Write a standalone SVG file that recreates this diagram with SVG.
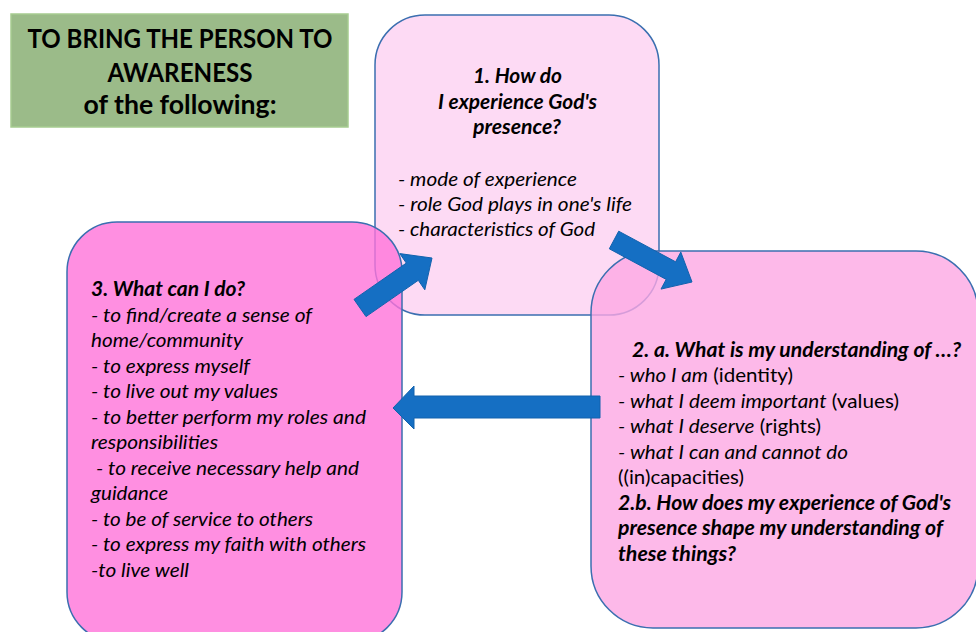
<svg xmlns="http://www.w3.org/2000/svg" width="976" height="632" viewBox="0 0 976 632">
<style>
.t{font-family:Lato,"Open Sans","Liberation Sans",sans-serif;font-size:20px;fill:#000}
.bi{font-weight:bold;font-style:italic}
.i{font-style:italic}
.n{font-style:normal}
.h{font-family:Lato,"Open Sans","Liberation Sans",sans-serif;font-size:27px;font-weight:bold;fill:#000;text-anchor:middle}
.box{stroke:#3b6fb0;stroke-width:1.5;fill-opacity:0.8}
.arrow{fill:#156fc3;stroke:#1262ad;stroke-width:1}
</style>
<rect width="976" height="632" fill="#fff"/>
<g id="title">
<rect x="11" y="14" width="337" height="113" fill="#9bbb89" stroke="#a6cc90" stroke-width="1.5"/>
<text class="h" x="180" y="48" textLength="305" lengthAdjust="spacingAndGlyphs">TO BRING THE PERSON TO</text>
<text class="h" x="180" y="82" textLength="145" lengthAdjust="spacingAndGlyphs">AWARENESS</text>
<text class="h" x="180" y="114" textLength="193" lengthAdjust="spacingAndGlyphs">of the following:</text>
</g>
<g id="node1">
<rect class="box" x="375" y="15" width="284" height="300" rx="50" fill="#fdd1f1"/>
<text class="t bi" x="473" y="83" textLength="89" lengthAdjust="spacingAndGlyphs">1. How do</text>
<text class="t bi" x="438" y="109" textLength="159" lengthAdjust="spacingAndGlyphs">I experience God's</text>
<text class="t bi" x="473" y="134" textLength="88" lengthAdjust="spacingAndGlyphs">presence?</text>
<text class="t i" x="398" y="186" textLength="179" lengthAdjust="spacingAndGlyphs">- mode of experience</text>
<text class="t i" x="398" y="211" textLength="234" lengthAdjust="spacingAndGlyphs">- role God plays in one's life</text>
<text class="t i" x="398" y="236" textLength="197" lengthAdjust="spacingAndGlyphs">- characteristics of God</text>
</g>
<g id="node3">
<rect class="box" x="67" y="222" width="335" height="420" rx="50" fill="#ff73d9"/>
<text class="t bi" x="91" y="296" textLength="154" lengthAdjust="spacingAndGlyphs">3. What can I do?</text>
<text class="t i" x="91" y="322" textLength="221" lengthAdjust="spacingAndGlyphs">- to find/create a sense of</text>
<text class="t i" x="91" y="347" textLength="152" lengthAdjust="spacingAndGlyphs">home/community</text>
<text class="t i" x="91" y="373" textLength="159" lengthAdjust="spacingAndGlyphs">- to express myself</text>
<text class="t i" x="91" y="398" textLength="187" lengthAdjust="spacingAndGlyphs">- to live out my values</text>
<text class="t i" x="91" y="424" textLength="275" lengthAdjust="spacingAndGlyphs">- to better perform my roles and</text>
<text class="t i" x="91" y="449" textLength="127" lengthAdjust="spacingAndGlyphs">responsibilities</text>
<text class="t i" x="96" y="475" textLength="263" lengthAdjust="spacingAndGlyphs">- to receive necessary help and</text>
<text class="t i" x="91" y="500" textLength="77" lengthAdjust="spacingAndGlyphs">guidance</text>
<text class="t i" x="91" y="526" textLength="222" lengthAdjust="spacingAndGlyphs">- to be of service to others</text>
<text class="t i" x="91" y="551" textLength="275" lengthAdjust="spacingAndGlyphs">- to express my faith with others</text>
<text class="t i" x="91" y="577" textLength="98" lengthAdjust="spacingAndGlyphs">-to live well</text>
</g>
<g id="node2">
<rect class="box" x="591" y="251" width="387" height="377" rx="62" fill="#fda8e4"/>
<text class="t bi" x="632" y="357" textLength="329" lengthAdjust="spacingAndGlyphs">2. a. What is my understanding of …?</text>
<text class="t" x="618" y="382" textLength="175" lengthAdjust="spacingAndGlyphs"><tspan class="i">- who I am</tspan> (identity)</text>
<text class="t" x="618" y="408" textLength="281" lengthAdjust="spacingAndGlyphs"><tspan class="i">- what I deem important</tspan> (values)</text>
<text class="t" x="618" y="433" textLength="203" lengthAdjust="spacingAndGlyphs"><tspan class="i">- what I deserve</tspan> (rights)</text>
<text class="t i" x="618" y="459" textLength="230" lengthAdjust="spacingAndGlyphs">- what I can and cannot do</text>
<text class="t" x="618" y="484" textLength="126" lengthAdjust="spacingAndGlyphs">((in)capacities)</text>
<text class="t bi" x="618" y="510" textLength="333" lengthAdjust="spacingAndGlyphs">2.b. How does my experience of God's</text>
<text class="t bi" x="618" y="535" textLength="325" lengthAdjust="spacingAndGlyphs">presence shape my understanding of</text>
<text class="t bi" x="618" y="561" textLength="118" lengthAdjust="spacingAndGlyphs">these things?</text>
</g>
<g id="connectors">
<polygon class="arrow" points="354,299.4 406.3,263.1 399.8,253.6 432,258 424.8,289.8 418.3,280.3 366,316.6"/>
<polygon class="arrow" points="618.7,231.2 675.6,261.8 680.8,252.1 692,282 661,289.1 666.2,279.4 609.3,248.8"/>
<polygon class="arrow" points="600,396 414,396 414,386 393,408 414,429 414,418 600,418"/>
</g>
</svg>
